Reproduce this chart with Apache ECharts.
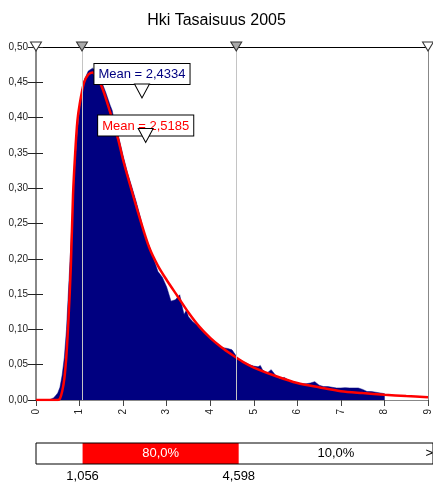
<!DOCTYPE html>
<html><head><meta charset="utf-8">
<script src="https://cdn.jsdelivr.net/npm/echarts@6/dist/echarts.min.js"></script>
<style>html,body{margin:0;padding:0;background:#fff}#c{width:433px;height:484px}</style>
</head><body><div id="c"></div>
<script>
const chartTitle = 'Hki Tasaisuus 2005';
const xMin = 0, xMax = 9, xStep = 1;
const yMin = 0, yMax = 0.5, yStep = 0.05;

// observed histogram (navy area)
const histX = [0.30,0.40,0.45,0.50,0.55,0.60,0.65,0.70,0.75,0.80,0.85,0.90,0.95,1.00,1.05,1.10,1.20,1.30,1.40,1.50,1.60,1.70,1.75,1.80,1.90,2.00,2.10,2.20,2.30,2.40,2.50,2.60,2.70,2.80,2.90,3.00,3.10,3.20,3.30,3.35,3.40,3.45,3.50,3.60,3.70,3.80,3.90,4.00,4.10,4.20,4.30,4.40,4.50,4.60,4.70,4.80,4.90,5.00,5.10,5.15,5.20,5.30,5.40,5.50,5.60,5.70,5.80,5.90,6.00,6.10,6.20,6.30,6.40,6.50,6.60,6.70,6.80,6.90,7.00,7.10,7.20,7.30,7.40,7.50,7.60,7.70,7.80,7.90,8.00,8.00];
const histY = [0.000,0.003,0.006,0.010,0.018,0.035,0.060,0.100,0.160,0.220,0.280,0.335,0.380,0.410,0.435,0.452,0.466,0.470,0.465,0.452,0.436,0.418,0.410,0.394,0.372,0.346,0.322,0.302,0.281,0.258,0.232,0.218,0.200,0.182,0.174,0.160,0.140,0.142,0.149,0.134,0.121,0.127,0.118,0.111,0.106,0.101,0.094,0.089,0.081,0.077,0.074,0.073,0.071,0.062,0.056,0.053,0.050,0.048,0.047,0.049,0.043,0.038,0.043,0.035,0.030,0.032,0.028,0.026,0.024,0.023,0.023,0.024,0.026,0.021,0.019,0.019,0.018,0.017,0.017,0.0175,0.017,0.017,0.017,0.015,0.012,0.012,0.011,0.010,0.009,0.000];

// fitted distribution (red curve)
const fitX = [0.00,0.50,0.55,0.60,0.65,0.70,0.75,0.80,0.85,0.90,0.95,1.00,1.10,1.20,1.30,1.40,1.50,1.60,1.70,1.80,1.90,2.00,2.20,2.40,2.60,2.80,3.00,3.25,3.50,3.75,4.00,4.25,4.50,4.75,5.00,5.50,6.00,6.50,7.00,7.50,8.00,8.50,9.00];
const fitY = [0.000,0.000,0.002,0.012,0.030,0.065,0.120,0.190,0.290,0.350,0.395,0.418,0.449,0.461,0.464,0.457,0.445,0.428,0.408,0.388,0.366,0.340,0.296,0.254,0.216,0.190,0.170,0.147,0.124,0.104,0.088,0.075,0.064,0.054,0.046,0.034,0.024,0.018,0.0125,0.0098,0.0075,0.0055,0.004];

const bounds = [1.056, 4.598];
const boundLabels = ['1,056', '4,598'];
const bandLabels = ['', '80,0%', '10,0%'];
const means = [2.4334, 2.5185];
const meanLabels = ['Mean = 2,4334', 'Mean = 2,5185'];

const FONT = "'Liberation Sans', Arial, sans-serif";

const hist = histX.map((x, i) => [x, histY[i]]);
const fit = fitX.map((x, i) => [x, fitY[i]]);
const bandWidths = [bounds[0], bounds[1] - bounds[0], xMax - bounds[1]];

const triPath = 'path://M0,0 L10,0 L5,9 Z';

const chart = echarts.init(document.getElementById('c'), null, {renderer: 'canvas'});
chart.setOption({
  animation: false,
  backgroundColor: '#fff',
  textStyle: {fontFamily: FONT},
  title: {text: chartTitle, left: 'center', top: 8,
    textStyle: {fontFamily: FONT, fontSize: 16, fontWeight: 'normal', color: '#000'}},
  grid: [
    {left: 36, right: 1, top: 47, bottom: 84, containLabel: false},
    {left: 36, right: -1, top: 443, height: 21, show: true, z: 10,
      borderColor: '#000', borderWidth: 1, backgroundColor: 'transparent'}
  ],
  xAxis: [
    {gridIndex: 0, type: 'value', min: xMin, max: xMax, interval: xStep, position: 'bottom',
      axisLine: {show: true, onZero: false, lineStyle: {color: '#888', width: 1}},
      axisTick: {show: true, length: 6, lineStyle: {color: '#444'}},
      axisLabel: {rotate: 90, fontSize: 10, color: '#222', margin: 9, fontFamily: FONT},
      splitLine: {show: false}},
    {gridIndex: 0, type: 'value', min: xMin, max: xMax, position: 'top',
      axisLine: {show: true, onZero: false, lineStyle: {color: '#000', width: 1}},
      axisTick: {show: false}, axisLabel: {show: false}, splitLine: {show: false}},
    {gridIndex: 1, type: 'value', min: xMin, max: xMax, position: 'bottom',
      axisLine: {show: false}, axisTick: {show: false}, splitLine: {show: false},
      axisLabel: {show: true, customValues: bounds, fontSize: 13, color: '#000', margin: 6, fontFamily: FONT,
        formatter: v => { const i = bounds.indexOf(v); return i >= 0 ? boundLabels[i] : ''; }}}
  ],
  yAxis: [
    {gridIndex: 0, type: 'value', min: yMin, max: yMax, interval: yStep, position: 'left',
      axisLine: {show: true, onZero: false, lineStyle: {color: '#888', width: 2}},
      axisTick: {show: true, inside: false, length: 8, lineStyle: {color: '#222'}},
      axisLabel: {fontSize: 10, color: '#222', margin: 8, fontFamily: FONT,
        formatter: v => v.toFixed(2).replace('.', ',')},
      splitLine: {show: false}},
    {gridIndex: 0, type: 'value', min: yMin, max: yMax, interval: yStep, position: 'left',
      axisLine: {show: false}, axisLabel: {show: false}, splitLine: {show: false},
      axisTick: {show: true, inside: true, length: 7, lineStyle: {color: '#222'}}},
    {gridIndex: 0, type: 'value', min: yMin, max: yMax, position: 'right',
      axisLine: {show: true, onZero: false, lineStyle: {color: '#888', width: 1}},
      axisTick: {show: false}, axisLabel: {show: false}, splitLine: {show: false}},
    {gridIndex: 1, type: 'category', data: ['band'], show: false}
  ],
  series: [
    {type: 'line', name: 'hist', xAxisIndex: 0, yAxisIndex: 0, data: hist, z: 2,
      symbol: 'none', lineStyle: {color: '#000080', width: 0.5},
      areaStyle: {color: '#000080', opacity: 1},
      markLine: {silent: true, symbol: 'none', label: {show: false},
        lineStyle: {color: '#c4c4c4', width: 1, type: 'solid'},
        data: bounds.map(b => ({xAxis: b}))}},
    {type: 'line', name: 'fit', xAxisIndex: 0, yAxisIndex: 0, data: fit, z: 3,
      symbol: 'none', smooth: 0.3, lineStyle: {color: '#ff0000', width: 2.5}},
    {type: 'scatter', name: 'marks', xAxisIndex: 0, yAxisIndex: 0, z: 6, clip: false,
      symbol: triPath, symbolSize: [11, 9], symbolOffset: [0, -0.5],
      data: [xMin, bounds[0], bounds[1], xMax].map((x, i) => ({value: [x, yMax],
        itemStyle: {opacity: 1, color: (i === 0 || i === 3) ? '#fff' : '#aaa', borderColor: '#333', borderWidth: 1}}))},
    {type: 'scatter', name: 'meanLabels', xAxisIndex: 0, yAxisIndex: 0, z: 7, clip: false,
      symbol: 'circle', symbolSize: 0, itemStyle: {opacity: 1},
      data: [
        {value: [means[0], 0.4377], label: {show: true, position: 'top', distance: 7,
          formatter: meanLabels[0], color: '#000080'}},
        {value: [means[1], 0.3746], label: {show: true, position: 'top', distance: 0,
          formatter: meanLabels[1], color: '#ff0000'}}
      ],
      label: {fontSize: 13, fontFamily: FONT, backgroundColor: '#fff', borderColor: '#000', opacity: 1,
        borderWidth: 1, padding: [4, 4, 3, 4]}},
    {type: 'scatter', name: 'meanMarks', xAxisIndex: 0, yAxisIndex: 0, z: 8, clip: false,
      symbol: triPath, symbolSize: [15, 14],
      itemStyle: {opacity: 1, color: '#fff', borderColor: '#000', borderWidth: 1},
      data: [[means[0], 0.4377], [means[1], 0.3746]]},
    {type: 'bar', name: 'b0', xAxisIndex: 2, yAxisIndex: 3, stack: 'band', barWidth: '100%',
      data: [bandWidths[0]], itemStyle: {color: '#fff'}, z: 2},
    {type: 'bar', name: 'b1', xAxisIndex: 2, yAxisIndex: 3, stack: 'band', barWidth: '100%',
      data: [bandWidths[1]], itemStyle: {color: '#ff0000'}, z: 2,
      label: {show: true, position: 'inside', formatter: bandLabels[1], color: '#fff', fontSize: 13, fontFamily: FONT}},
    {type: 'bar', name: 'b2', xAxisIndex: 2, yAxisIndex: 3, stack: 'band', barWidth: '100%',
      data: [bandWidths[2]], itemStyle: {color: '#fff'}, z: 2,
      label: {show: true, position: 'inside', formatter: bandLabels[2], color: '#000', fontSize: 13, fontFamily: FONT}},
    {type: 'scatter', name: 'arrow', xAxisIndex: 2, yAxisIndex: 3, z: 9, clip: false,
      symbolSize: 0, itemStyle: {opacity: 1}, data: [[xMax, 'band']],
      label: {show: true, position: 'left', distance: 0, formatter: '>', color: '#000', fontSize: 13, fontFamily: FONT}}
  ]
});
</script>
</body></html>
